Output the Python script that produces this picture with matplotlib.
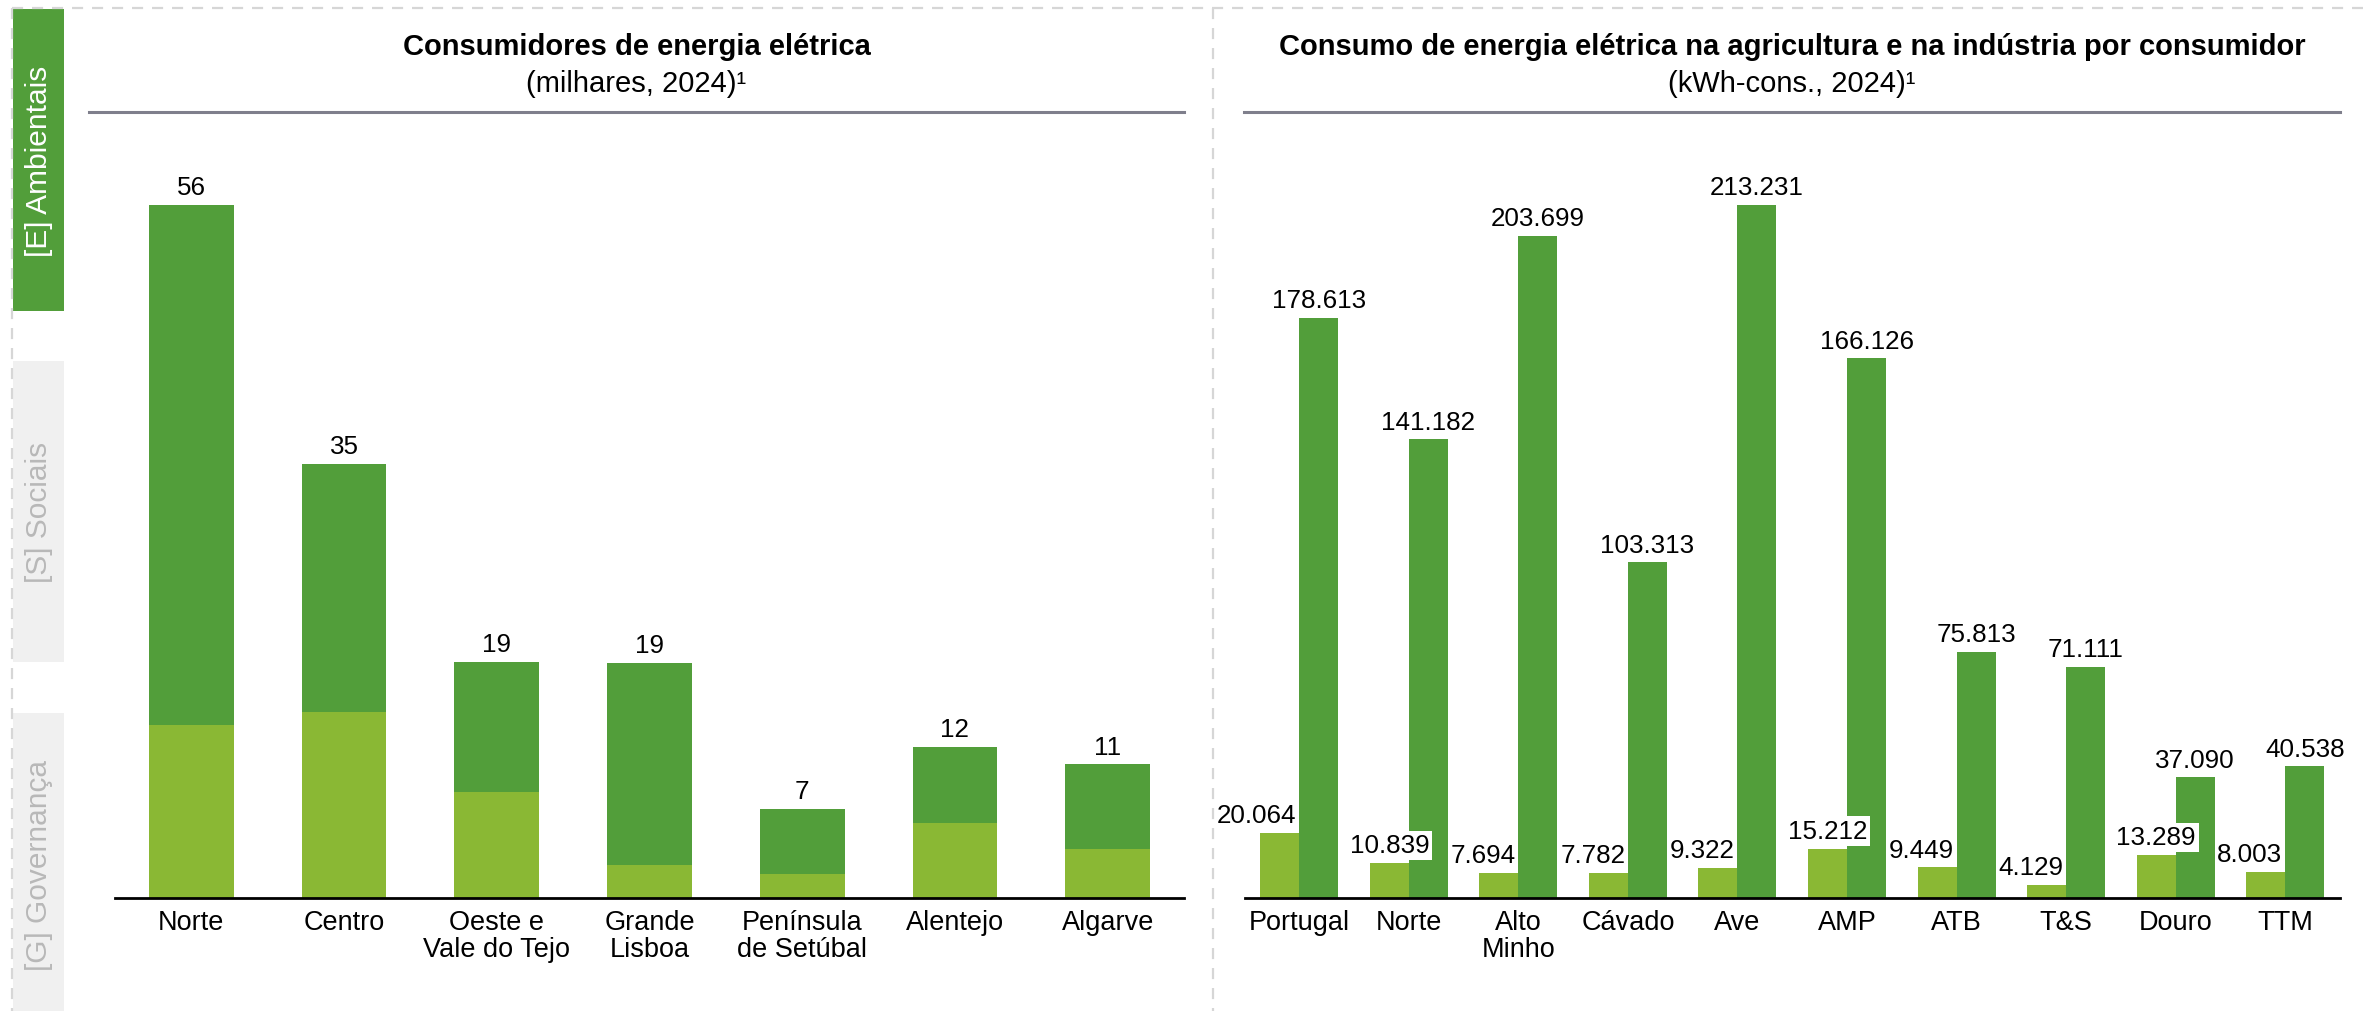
import numpy as np
import matplotlib
matplotlib.use('Agg')
import matplotlib.pyplot as plt
from matplotlib.lines import Line2D
from matplotlib.patches import Rectangle

plt.rcParams['font.family'] = ['Liberation Sans', 'DejaVu Sans']

# left chart: consumers (thousands, 2024)
regioes = ['Norte', 'Centro', 'Oeste e\nVale do Tejo', 'Grande\nLisboa',
           'Península\nde Setúbal', 'Alentejo', 'Algarve']
cons_claro = [14.0, 15.0, 8.6, 2.7, 1.9, 6.1, 4.0]
cons_escuro = [42.0, 20.1, 10.5, 16.3, 5.3, 6.1, 6.8]

# right chart: kWh per consumer
sub_regioes = ['Portugal', 'Norte', 'Alto\nMinho', 'Cávado', 'Ave', 'AMP',
               'ATB', 'T&S', 'Douro', 'TTM']
agricultura = [20.064, 10.839, 7.694, 7.782, 9.322, 15.212, 9.449, 4.129, 13.289, 8.003]
industria = [178.613, 141.182, 203.699, 103.313, 213.231, 166.126, 75.813, 71.111, 37.090, 40.538]

VERDE = '#529e3a'
VERDE_CLARO = '#8ab834'
W, H = 2363, 1012
FS_LAB = 18.7

fig = plt.figure(figsize=(W / 100, H / 100), dpi=100)

def fx(px):
    return px / W

def fy(py):
    return 1 - py / H

# dashed frame
for xs, ys in [((12, W), (9, 9)), ((12, 12), (9, H)), ((1213, 1213), (9, H))]:
    fig.add_artist(Line2D([fx(x) for x in xs], [fy(y) for y in ys], color='#d6d6d6',
                          lw=1.6, linestyle=(0, (5, 4))))

# side tabs
tabs = [('[E] Ambientais', 10, 312, VERDE, 'white'),
        ('[S] Sociais', 362, 663, '#f0f0f0', '#b8b8b8'),
        ('[G] Governança', 714, 1030, '#f0f0f0', '#b8b8b8')]
for txt, y0, y1, fc, tc in tabs:
    fig.add_artist(Rectangle((fx(13), fy(y1)), fx(64) - fx(13), fy(y0) - fy(y1),
                             facecolor=fc, edgecolor='none'))
    fig.text(fx(39), fy((y0 + min(y1, 1018)) / 2), txt, rotation=90, color=tc,
             fontsize=21.5, ha='center', va='center')

# titles
for x0, x1, t, s in [(89, 1184, 'Consumidores de energia elétrica', '(milhares, 2024)¹'),
                     (1244, 2340, 'Consumo de energia elétrica na agricultura e na indústria por consumidor',
                      '(kWh-cons., 2024)¹')]:
    xc = fx((x0 + x1) / 2)
    fig.text(xc, fy(47), t, fontsize=21, fontweight='bold', ha='center', va='center')
    fig.text(xc, fy(84), s, fontsize=21, ha='center', va='center')
    fig.add_artist(Line2D([fx(x0), fx(x1)], [fy(113), fy(113)], color='#7f7f8c', lw=2.2))

# left chart
ax1 = fig.add_axes([fx(115), fy(899), fx(1184) - fx(115), (899 - 113) / H])
x = np.arange(len(regioes))
ax1.bar(x, cons_claro, width=0.555, color=VERDE_CLARO)
ax1.bar(x, cons_escuro, width=0.555, bottom=cons_claro, color=VERDE)
tot = np.array(cons_claro) + np.array(cons_escuro)
for i, v in enumerate(tot):
    ax1.annotate(f'{v:.0f}', (x[i], v), xytext=(0, 4), textcoords='offset points',
                 ha='center', va='bottom', fontsize=FS_LAB)
ax1.set_xlim(-0.5, len(regioes) - 0.5)
ax1.set_ylim(0, 56 * 786 / 693)
ax1.set_xticks(x)
ax1.set_xticklabels(regioes, fontsize=19.5, linespacing=1.05)

# right chart
ax2 = fig.add_axes([fx(1244.5), fy(899), fx(2340) - fx(1244.5), (899 - 113) / H])
x2 = np.arange(len(sub_regioes))
bw = 0.356
ax2.bar(x2 - bw / 2, agricultura, width=bw, color=VERDE_CLARO)
ax2.bar(x2 + bw / 2, industria, width=bw, color=VERDE)
for i, v in enumerate(industria):
    ax2.annotate(f'{v:.3f}', (x2[i] + bw / 2, v), xytext=(0, 4), textcoords='offset points',
                 ha='center', va='bottom', fontsize=FS_LAB)
for i, v in enumerate(agricultura):
    if 10 <= v < 20:
        ax2.annotate(f'{v:.3f}', (x2[i] - bw / 2, v), xytext=(0, 4), textcoords='offset points',
                     ha='center', va='bottom', fontsize=FS_LAB,
                     bbox=dict(boxstyle='square,pad=0.1', fc='white', ec='none'))
    else:
        ax2.annotate(f'{v:.3f}', (x2[i], v), xytext=(-2, 4), textcoords='offset points',
                     ha='right', va='bottom', fontsize=FS_LAB)
ax2.set_xlim(-0.5, len(sub_regioes) - 0.5)
ax2.set_ylim(0, 213.231 * 786 / 693)
ax2.set_xticks(x2)
ax2.set_xticklabels(sub_regioes, fontsize=19.5, linespacing=1.05)

for ax in (ax1, ax2):
    for s in ['top', 'right', 'left']:
        ax.spines[s].set_visible(False)
    ax.spines['bottom'].set_linewidth(2.0)
    ax.spines['bottom'].set_color('black')
    ax.set_yticks([])
    ax.tick_params(axis='x', length=0, pad=8)
    ax.patch.set_alpha(0)

fig.savefig('out.png', dpi=100)
